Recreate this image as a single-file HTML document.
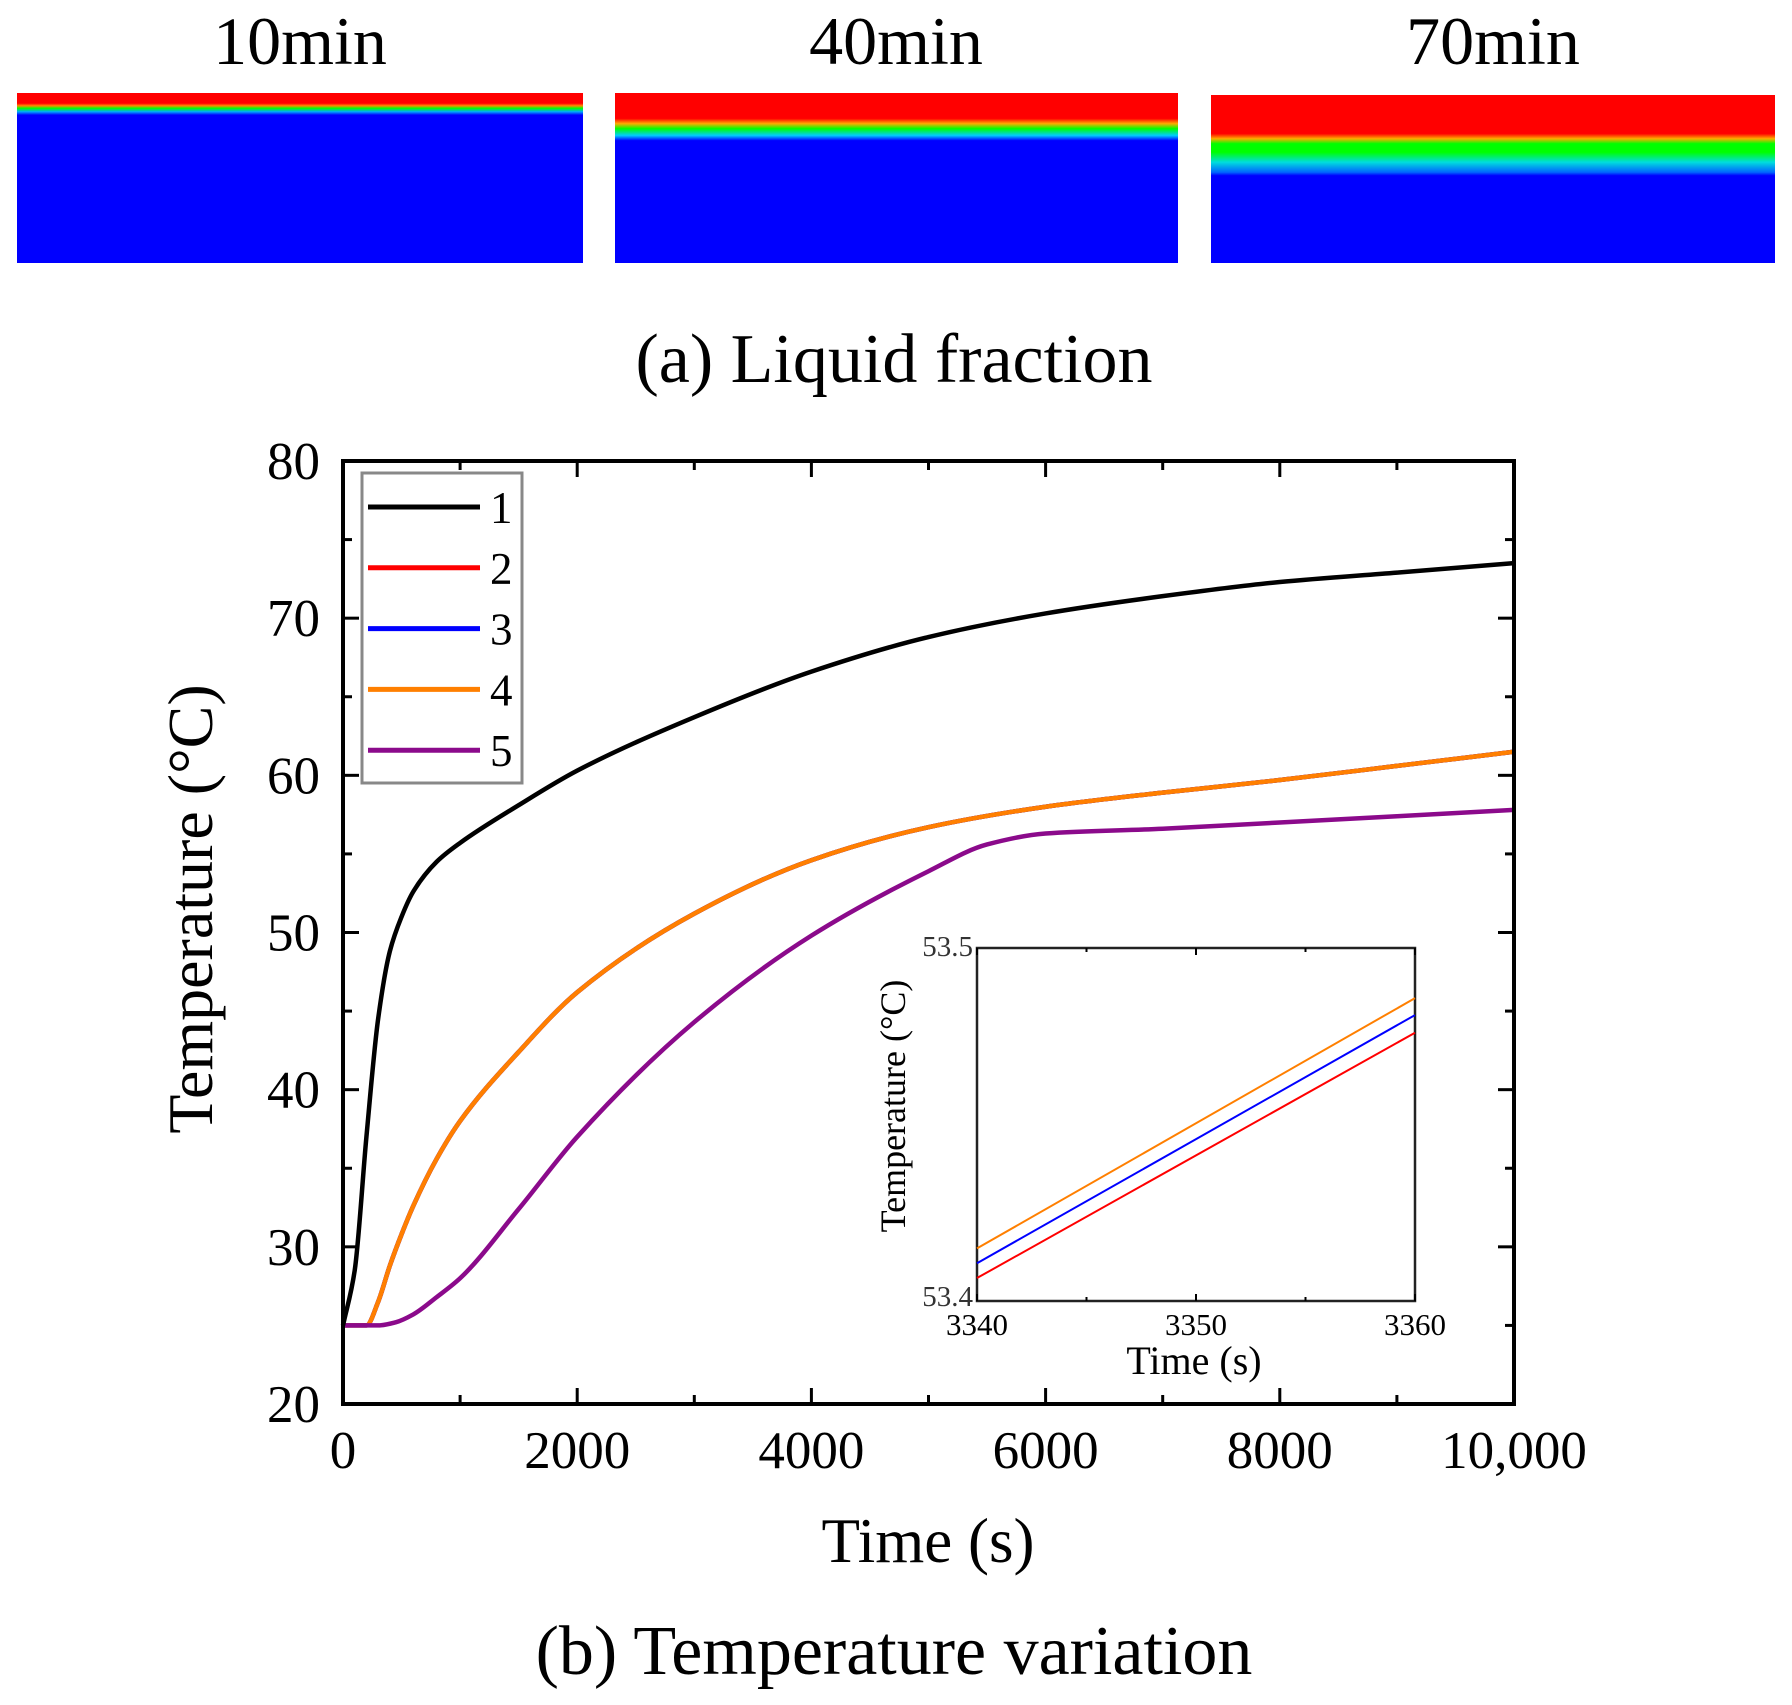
<!DOCTYPE html>
<html><head><meta charset="utf-8"><style>
body{margin:0;background:#fff;}
svg{display:block;font-family:"Liberation Serif",serif;}
</style></head><body>
<svg id="fig" width="1792" height="1705" viewBox="0 0 1792 1705">
<defs>
<linearGradient id="g10" x1="0" y1="0" x2="0" y2="1">
<stop offset="0" stop-color="#f00"/><stop offset="0.06" stop-color="#f00"/><stop offset="0.075" stop-color="#f80"/><stop offset="0.09" stop-color="#0f0"/><stop offset="0.11" stop-color="#0af"/><stop offset="0.13" stop-color="#00f"/><stop offset="1" stop-color="#00f"/></linearGradient>
<linearGradient id="g40" x1="0" y1="0" x2="0" y2="1">
<stop offset="0" stop-color="#f00"/><stop offset="0.15" stop-color="#f00"/><stop offset="0.18" stop-color="#fa0"/><stop offset="0.21" stop-color="#0f0"/><stop offset="0.25" stop-color="#0cf"/><stop offset="0.28" stop-color="#00f"/><stop offset="1" stop-color="#00f"/></linearGradient>
<linearGradient id="g70" x1="0" y1="0" x2="0" y2="1">
<stop offset="0" stop-color="#f00"/><stop offset="0.23" stop-color="#f00"/><stop offset="0.26" stop-color="#fa0"/><stop offset="0.29" stop-color="#0f0"/><stop offset="0.34" stop-color="#0f0"/><stop offset="0.4" stop-color="#0dd"/><stop offset="0.46" stop-color="#06f"/><stop offset="0.48" stop-color="#00f"/><stop offset="1" stop-color="#00f"/></linearGradient>
</defs>
<g>
<text x="300" y="64" font-size="68" text-anchor="middle">10min</text>
<text x="896" y="64" font-size="68" text-anchor="middle">40min</text>
<text x="1493" y="64" font-size="68" text-anchor="middle">70min</text>
<rect x="17" y="93" width="566" height="170" fill="url(#g10)"/>
<rect x="615" y="93" width="563" height="170" fill="url(#g40)"/>
<rect x="1211" y="95" width="564" height="168" fill="url(#g70)"/>
<text x="894" y="382" font-size="70" text-anchor="middle">(a) Liquid fraction</text>
</g>
<g id="main"></g>
<text x="894" y="1674" font-size="70" text-anchor="middle">(b) Temperature variation</text>
</svg>
<script>
const times1=[0,100,200,300,400,500,600,800,1000,1500,2000,3000,4000,5000,6000,7000,8000,9000,10000];
const s1=[25,28.5,37,44.5,48.8,51,52.6,54.5,55.7,58.1,60.3,63.7,66.6,68.8,70.3,71.4,72.3,72.9,73.5];
const times4=[0,200,300,400,500,600,800,1000,1500,2000,3000,4000,5000,6000,7000,8000,9000,10000];
const s2=[25,25,26.5,28.8,30.8,32.6,35.6,38,42.4,46.2,51.2,54.6,56.7,58,58.9,59.7,60.6,61.5];
const s3=[25,25,26.5,28.8,30.8,32.6,35.6,38,42.4,46.2,51.2,54.6,56.7,58,58.9,59.7,60.6,61.5];
const s4=[25,25,26.5,28.8,30.8,32.6,35.6,38,42.4,46.2,51.2,54.6,56.7,58,58.9,59.7,60.6,61.5];
const times5=[0,300,450,600,800,1000,1500,2000,3000,4000,5000,5500,6000,7000,8000,9000,10000];
const s5=[25,25,25.2,25.7,26.8,28,32.4,37,44.3,49.8,53.9,55.6,56.3,56.6,57,57.4,57.8];
const xTicks=[0,2000,4000,6000,8000,10000];
const xTickLabels=["0","2000","4000","6000","8000","10,000"];
const yTicks=[20,30,40,50,60,70,80];
const legendLabels=["1","2","3","4","5"];
const colors=["#000","#f00","#00f","#ff7f00","#8b0a8b"];
// inset
const insetT=[3340,3360];
const insetRed=[53.4065,53.476];
const insetBlue=[53.4107,53.481];
const insetOrange=[53.4149,53.4858];
const insetXTicks=[3340,3350,3360];
const insetYTicks=[53.4,53.5];

const NS="http://www.w3.org/2000/svg";
const g=document.getElementById('main');
function el(t,a,p){const e=document.createElementNS(NS,t);for(const k in a)e.setAttribute(k,a[k]);(p||g).appendChild(e);return e;}
const X0=343,X1=1514,Y0=1404,Y1=461;
const sx=v=>X0+(v-0)/10000*(X1-X0);
const sy=v=>Y0-(v-20)/60*(Y0-Y1);
function monotone(pts){const n=pts.length;const dx=[],m=[],t=[];
for(let i=0;i<n-1;i++){dx[i]=pts[i+1][0]-pts[i][0];m[i]=(pts[i+1][1]-pts[i][1])/dx[i];}
t[0]=m[0];t[n-1]=m[n-2];
for(let i=1;i<n-1;i++){if(m[i-1]*m[i]<=0)t[i]=0;else{const w1=2*dx[i]+dx[i-1],w2=dx[i]+2*dx[i-1];t[i]=(w1+w2)/(w1/m[i-1]+w2/m[i]);}}
let d="M"+pts[0][0]+","+pts[0][1];
for(let i=0;i<n-1;i++){const h=dx[i]/3;d+=" C"+(pts[i][0]+h)+","+(pts[i][1]+h*t[i])+" "+(pts[i+1][0]-h)+","+(pts[i+1][1]-h*t[i+1])+" "+pts[i+1][0]+","+pts[i+1][1];}
return d;}
for(let v=0;v<=10000;v+=1000){const L=v%2000===0?16:9;
let t=el('line',{x1:sx(v),x2:sx(v),y1:Y0,y2:Y0-L,stroke:'#000','stroke-width':3});

let t2=el('line',{x1:sx(v),x2:sx(v),y1:Y1,y2:Y1+L,stroke:'#000','stroke-width':3});
}
for(let v=20;v<=80;v+=5){const L=v%10===0?16:9;
let t=el('line',{x1:X0,x2:X0+L,y1:sy(v),y2:sy(v),stroke:'#000','stroke-width':3});

let t2=el('line',{x1:X1,x2:X1-L,y1:sy(v),y2:sy(v),stroke:'#000','stroke-width':3});
}
xTicks.forEach((v,i)=>{const t=el('text',{x:sx(v),y:1468,'font-size':53,'text-anchor':'middle'});t.textContent=xTickLabels[i];
});
yTicks.forEach(v=>{const t=el('text',{x:320,y:sy(v)+18,'font-size':53,'text-anchor':'end'});t.textContent=v;
});
let xt=el('text',{x:928,y:1562,'font-size':63,'text-anchor':'middle'});xt.textContent="Time (s)";

let yt=el('text',{x:0,y:0,'font-size':64,'text-anchor':'middle',transform:'translate(212,909) rotate(-90)'});yt.textContent="Temperature (°C)";

const series=[[times1,s1],[times4,s2],[times4,s3],[times4,s4],[times5,s5]];
[1,2,3,4,0].forEach(i=>{const [tt,vv]=series[i];const p=el('path',{d:monotone(tt.map((t,k)=>[sx(t),sy(vv[k])])),fill:'none',stroke:colors[i],'stroke-width':4.5});
});
let lb=el('rect',{x:362,y:473,width:160,height:310,fill:'#fff',stroke:'#888','stroke-width':3});

legendLabels.forEach((l,i)=>{const y=507+i*60.8;
const ln=el('line',{x1:368,x2:480,y1:y,y2:y,stroke:colors[i],'stroke-width':5});

const tx=el('text',{x:490,y:y+16,'font-size':45});tx.textContent=l;
});
let fr=el('rect',{x:X0,y:Y1,width:X1-X0,height:Y0-Y1,fill:'none',stroke:'#000','stroke-width':4});

const IX0=977,IX1=1415,IY0=1301,IY1=948;
const ix=v=>IX0+(v-3340)/20*(IX1-IX0);
const iy=v=>IY0-(v-53.4)/0.1*(IY0-IY1);
let ib=el('rect',{x:IX0,y:IY1,width:IX1-IX0,height:IY0-IY1,fill:'#fff',stroke:'#222','stroke-width':2.5});

for(let v=3340;v<=3360;v+=5){const L=v%10===0?7:4;
let t=el('line',{x1:ix(v),x2:ix(v),y1:IY0,y2:IY0-L,stroke:'#000','stroke-width':2});

let t2=el('line',{x1:ix(v),x2:ix(v),y1:IY1,y2:IY1+L,stroke:'#000','stroke-width':2});
}
[[insetRed,colors[1],'red'],[insetBlue,colors[2],'blue'],[insetOrange,colors[3],'orange']].forEach(([vals,c,n])=>{
const ln=el('line',{x1:ix(insetT[0]),y1:iy(vals[0]),x2:ix(insetT[1]),y2:iy(vals[1]),stroke:c,'stroke-width':2});
});
insetXTicks.forEach(v=>{const t=el('text',{x:ix(v),y:1335,'font-size':31,'text-anchor':'middle'});t.textContent=v;
});
insetYTicks.forEach(v=>{const t=el('text',{x:IX0-4,y:iy(v)+(v===53.5?8:5),'font-size':29,'text-anchor':'end',fill:'#333'});t.textContent=v.toFixed(1);
});
let ixt=el('text',{x:1194,y:1374,'font-size':40,'text-anchor':'middle'});ixt.textContent="Time (s)";

let iyt=el('text',{x:0,y:0,'font-size':36,'text-anchor':'middle',transform:'translate(905,1106) rotate(-90)'});iyt.textContent="Temperature (°C)";

</script>
</body></html>
